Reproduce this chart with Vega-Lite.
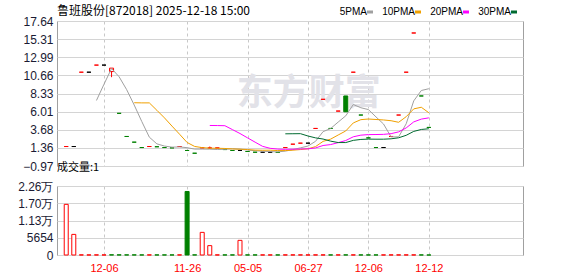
{
  "$schema": "https://vega.github.io/schema/vega-lite/v6.json",
  "background": "white",
  "padding": {"left": 17, "top": 4, "right": 5, "bottom": 0},
  "spacing": 20,
  "bounds": "flush",
  "config": {
    "view": {"stroke": "#a0a0a0", "strokeWidth": 1},
    "axis": {"ticks": false, "domain": false, "title": null, "labelFont": "Liberation Sans", "labelFontSize": 12, "labelColor": "#1a1a33", "gridColor": "#d4d4d4", "gridWidth": 1, "labelFlush": false, "labelOverlap": false, "labelPadding": 4}
  },
  "datasets": {
    "k": [
      {"i": 0, "o": 1.53, "h": 1.53, "l": 1.53, "c": 1.53, "dir": "up", "vol": 16600, "vdir": "up"},
      {"i": 1, "o": 1.53, "h": 1.53, "l": 1.53, "c": 1.53, "dir": "flat", "vol": 6760, "vdir": "up"},
      {"i": 2, "o": 11.07, "h": 11.07, "l": 11.07, "c": 11.07, "dir": "up", "vol": 40, "vdir": "up"},
      {"i": 3, "o": 11.07, "h": 11.07, "l": 11.07, "c": 11.07, "dir": "flat", "vol": 30, "vdir": "up"},
      {"i": 4, "o": 11.98, "h": 11.98, "l": 11.98, "c": 11.98, "dir": "up", "vol": 40, "vdir": "up", "5PMA": 7.44},
      {"i": 5, "o": 11.98, "h": 11.98, "l": 11.98, "c": 11.98, "dir": "flat", "vol": 30, "vdir": "up", "5PMA": 9.53},
      {"i": 6, "o": 11.15, "h": 11.59, "l": 10.43, "c": 11.59, "dir": "up", "vol": 60, "vdir": "down", "5PMA": 11.54},
      {"i": 7, "o": 5.79, "h": 5.79, "l": 5.79, "c": 5.79, "dir": "down", "vol": 50, "vdir": "down", "5PMA": 10.48},
      {"i": 8, "o": 2.82, "h": 2.82, "l": 2.82, "c": 2.82, "dir": "down", "vol": 40, "vdir": "down", "5PMA": 8.83},
      {"i": 9, "o": 2.09, "h": 2.09, "l": 2.09, "c": 2.09, "dir": "down", "vol": 40, "vdir": "down", "5PMA": 6.85, "10PMA": 7.15},
      {"i": 10, "o": 1.4, "h": 1.4, "l": 1.4, "c": 1.4, "dir": "down", "vol": 30, "vdir": "down", "5PMA": 4.74, "10PMA": 7.13},
      {"i": 11, "o": 1.53, "h": 1.53, "l": 1.53, "c": 1.53, "dir": "up", "vol": 40, "vdir": "up", "5PMA": 2.73, "10PMA": 7.13},
      {"i": 12, "o": 1.5, "h": 1.5, "l": 1.5, "c": 1.5, "dir": "down", "vol": 30, "vdir": "down", "5PMA": 1.87, "10PMA": 6.18},
      {"i": 13, "o": 1.4, "h": 1.4, "l": 1.4, "c": 1.4, "dir": "down", "vol": 30, "vdir": "down", "5PMA": 1.59, "10PMA": 5.21},
      {"i": 14, "o": 1.36, "h": 1.36, "l": 1.36, "c": 1.36, "dir": "down", "vol": 30, "vdir": "down", "5PMA": 1.45, "10PMA": 4.15},
      {"i": 15, "o": 1.53, "h": 1.53, "l": 1.53, "c": 1.53, "dir": "up", "vol": 40, "vdir": "up", "5PMA": 1.48, "10PMA": 3.11},
      {"i": 16, "o": 1.02, "h": 1.02, "l": 1.02, "c": 1.02, "dir": "down", "vol": 20820, "vdir": "down", "5PMA": 1.38, "10PMA": 2.05},
      {"i": 17, "o": 0.67, "h": 0.67, "l": 0.67, "c": 0.67, "dir": "down", "vol": 40, "vdir": "down", "5PMA": 1.2, "10PMA": 1.54},
      {"i": 18, "o": 1.36, "h": 1.36, "l": 1.36, "c": 1.36, "dir": "up", "vol": 7420, "vdir": "up", "5PMA": 1.2, "10PMA": 1.39},
      {"i": 19, "o": 1.35, "h": 1.53, "l": 1.22, "c": 1.35, "dir": "up", "vol": 3070, "vdir": "up", "5PMA": 1.19, "10PMA": 1.32, "20PMA": 4.23},
      {"i": 20, "o": 1.35, "h": 1.35, "l": 1.35, "c": 1.35, "dir": "up", "vol": 40, "vdir": "up", "5PMA": 1.15, "10PMA": 1.31, "20PMA": 4.22},
      {"i": 21, "o": 1.14, "h": 1.14, "l": 1.14, "c": 1.14, "dir": "down", "vol": 30, "vdir": "down", "5PMA": 1.17, "10PMA": 1.28, "20PMA": 4.2},
      {"i": 22, "o": 1.02, "h": 1.02, "l": 1.02, "c": 1.02, "dir": "down", "vol": 30, "vdir": "down", "5PMA": 1.24, "10PMA": 1.22, "20PMA": 3.7},
      {"i": 23, "o": 1.02, "h": 1.02, "l": 1.02, "c": 1.02, "dir": "flat", "vol": 4800, "vdir": "up", "5PMA": 1.18, "10PMA": 1.19, "20PMA": 3.2},
      {"i": 24, "o": 0.89, "h": 0.89, "l": 0.89, "c": 0.89, "dir": "down", "vol": 30, "vdir": "down", "5PMA": 1.08, "10PMA": 1.14, "20PMA": 2.64},
      {"i": 25, "o": 0.8, "h": 0.8, "l": 0.8, "c": 0.8, "dir": "down", "vol": 30, "vdir": "down", "5PMA": 0.99, "10PMA": 1.07, "20PMA": 2.09},
      {"i": 26, "o": 0.8, "h": 0.8, "l": 0.8, "c": 0.8, "dir": "flat", "vol": 30, "vdir": "up", "5PMA": 0.92, "10PMA": 1.05, "20PMA": 1.55},
      {"i": 27, "o": 0.8, "h": 0.8, "l": 0.8, "c": 0.8, "dir": "flat", "vol": 30, "vdir": "up", "5PMA": 0.88, "10PMA": 1.06, "20PMA": 1.3},
      {"i": 28, "o": 0.78, "h": 0.78, "l": 0.78, "c": 0.78, "dir": "down", "vol": 30, "vdir": "down", "5PMA": 0.84, "10PMA": 1.01, "20PMA": 1.2},
      {"i": 29, "o": 1.4, "h": 1.4, "l": 1.4, "c": 1.4, "dir": "up", "vol": 40, "vdir": "up", "5PMA": 0.94, "10PMA": 1.01, "20PMA": 1.17, "30PMA": 3.16},
      {"i": 30, "o": 1.83, "h": 1.83, "l": 1.83, "c": 1.83, "dir": "up", "vol": 40, "vdir": "up", "5PMA": 1.13, "10PMA": 1.06, "20PMA": 1.19, "30PMA": 3.17},
      {"i": 31, "o": 1.96, "h": 1.96, "l": 1.96, "c": 1.96, "dir": "up", "vol": 40, "vdir": "up", "5PMA": 1.36, "10PMA": 1.14, "20PMA": 1.21, "30PMA": 3.18},
      {"i": 32, "o": 1.96, "h": 1.96, "l": 1.96, "c": 1.96, "dir": "flat", "vol": 30, "vdir": "up", "5PMA": 1.59, "10PMA": 1.24, "20PMA": 1.23, "30PMA": 2.88},
      {"i": 33, "o": 3.85, "h": 3.85, "l": 3.85, "c": 3.85, "dir": "up", "vol": 40, "vdir": "up", "5PMA": 2.2, "10PMA": 1.52, "20PMA": 1.35, "30PMA": 2.64},
      {"i": 34, "o": 7.59, "h": 7.59, "l": 7.59, "c": 7.59, "dir": "up", "vol": 40, "vdir": "up", "5PMA": 3.44, "10PMA": 2.19, "20PMA": 1.66, "30PMA": 2.49},
      {"i": 35, "o": 3.85, "h": 3.85, "l": 3.85, "c": 3.85, "dir": "down", "vol": 30, "vdir": "down", "5PMA": 3.84, "10PMA": 2.48, "20PMA": 1.78, "30PMA": 2.22},
      {"i": 36, "o": 6.08, "h": 6.08, "l": 6.08, "c": 6.08, "dir": "up", "vol": 40, "vdir": "up", "5PMA": 4.67, "10PMA": 3.01, "20PMA": 2.03, "30PMA": 2.04},
      {"i": 37, "o": 8.02, "h": 8.02, "l": 5.99, "c": 5.99, "dir": "down", "vol": 40, "vdir": "down", "5PMA": 5.47, "10PMA": 3.53, "20PMA": 2.3, "30PMA": 2.04},
      {"i": 38, "o": 11.07, "h": 11.07, "l": 11.07, "c": 11.07, "dir": "up", "vol": 40, "vdir": "up", "5PMA": 6.92, "10PMA": 4.56, "20PMA": 2.78, "30PMA": 2.32},
      {"i": 39, "o": 5.57, "h": 5.57, "l": 5.57, "c": 5.57, "dir": "down", "vol": 30, "vdir": "down", "5PMA": 6.51, "10PMA": 4.98, "20PMA": 2.99, "30PMA": 2.44},
      {"i": 40, "o": 2.64, "h": 2.64, "l": 2.64, "c": 2.64, "dir": "down", "vol": 30, "vdir": "down", "5PMA": 6.27, "10PMA": 5.06, "20PMA": 3.06, "30PMA": 2.48},
      {"i": 41, "o": 1.4, "h": 1.4, "l": 1.4, "c": 1.4, "dir": "down", "vol": 30, "vdir": "down", "5PMA": 5.33, "10PMA": 5.0, "20PMA": 3.07, "30PMA": 2.47},
      {"i": 42, "o": 1.4, "h": 1.4, "l": 1.4, "c": 1.4, "dir": "flat", "vol": 30, "vdir": "up", "5PMA": 4.42, "10PMA": 4.94, "20PMA": 3.09, "30PMA": 2.47},
      {"i": 43, "o": 2.82, "h": 2.82, "l": 2.82, "c": 2.82, "dir": "up", "vol": 40, "vdir": "up", "5PMA": 2.77, "10PMA": 4.84, "20PMA": 3.18, "30PMA": 2.52},
      {"i": 44, "o": 5.57, "h": 5.57, "l": 5.57, "c": 5.57, "dir": "up", "vol": 40, "vdir": "up", "5PMA": 2.77, "10PMA": 4.64, "20PMA": 3.41, "30PMA": 2.65},
      {"i": 45, "o": 11.07, "h": 11.07, "l": 11.07, "c": 11.07, "dir": "up", "vol": 40, "vdir": "up", "5PMA": 4.45, "10PMA": 5.36, "20PMA": 3.92, "30PMA": 2.97},
      {"i": 46, "o": 16.1, "h": 16.1, "l": 16.1, "c": 16.1, "dir": "up", "vol": 40, "vdir": "up", "5PMA": 7.39, "10PMA": 6.36, "20PMA": 4.69, "30PMA": 3.47},
      {"i": 47, "o": 8.02, "h": 8.02, "l": 8.02, "c": 8.02, "dir": "down", "vol": 30, "vdir": "down", "5PMA": 8.72, "10PMA": 6.57, "20PMA": 5.05, "30PMA": 3.72},
      {"i": 48, "o": 3.98, "h": 3.98, "l": 3.98, "c": 3.98, "dir": "down", "vol": 1, "vdir": "down", "5PMA": 8.95, "10PMA": 5.86, "20PMA": 5.21, "30PMA": 3.81}
    ]
  },
  "vconcat": [
    {
      "width": 466,
      "height": 145,
      "title": {"text": "鲁班股份[872018] 2025-12-18 15:00", "anchor": "start", "frame": "group", "baseline": "bottom", "offset": -15, "fontSize": 12, "font": "Noto Sans CJK SC", "fontWeight": "normal", "color": "#000000"},
      "data": {"name": "k"},
      "layer": [
        {
          "data": {"values": [{"wm": "东方财富"}]},
          "mark": {"type": "text", "font": "Noto Sans CJK SC", "fontSize": 36, "fontWeight": "bold", "color": "#e2e2e8"},
          "encoding": {
            "x": {"datum": 32.1, "type": "quantitative", "scale": {"domain": [-0.56, 59.8], "nice": false, "zero": false},
              "axis": {"values": [5, 16, 24, 32, 40, 48], "labels": false, "grid": true, "gridDash": [3, 3], "gridColor": "#c8c8c8"}},
            "y": {"datum": 8.27, "type": "quantitative", "scale": {"domain": [-0.97, 17.64], "nice": false, "zero": false},
              "axis": {"values": [-0.97, 1.36, 3.68, 6.01, 8.33, 10.66, 12.99, 15.31, 17.64], "format": ".2f", "grid": true, "labelOverlap": false}},
            "text": {"field": "wm"}
          }
        },
        {
          "mark": {"type": "rule", "strokeWidth": 1},
          "encoding": {
            "x": {"field": "i", "type": "quantitative", "scale": {"domain": [-0.56, 59.8], "nice": false, "zero": false},
              "axis": {"values": [5, 16, 24, 32, 40, 48], "labels": false, "grid": true, "gridDash": [3, 3], "gridColor": "#c8c8c8"}},
            "y": {"field": "l", "type": "quantitative", "scale": {"domain": [-0.97, 17.64], "nice": false, "zero": false},
              "axis": {"values": [-0.97, 1.36, 3.68, 6.01, 8.33, 10.66, 12.99, 15.31, 17.64], "format": ".2f", "grid": true, "labelOverlap": false}},
            "y2": {"field": "h"},
            "stroke": {"field": "dir", "type": "nominal", "scale": {"domain": ["up", "down", "flat"], "range": ["#ff0000", "#008000", "#000000"]}, "legend": null}
          }
        },
        {
          "mark": {"type": "bar", "size": 4, "strokeWidth": 1},
          "encoding": {
            "x": {"field": "i", "type": "quantitative", "scale": {"domain": [-0.56, 59.8], "nice": false, "zero": false},
              "axis": {"values": [5, 16, 24, 32, 40, 48], "labels": false, "grid": true, "gridDash": [3, 3], "gridColor": "#c8c8c8"}},
            "y": {"field": "o", "type": "quantitative", "scale": {"domain": [-0.97, 17.64], "nice": false, "zero": false},
              "axis": {"values": [-0.97, 1.36, 3.68, 6.01, 8.33, 10.66, 12.99, 15.31, 17.64], "format": ".2f", "grid": true, "labelOverlap": false}},
            "y2": {"field": "c"},
            "fill": {"field": "dir", "type": "nominal", "scale": {"domain": ["up", "down", "flat"], "range": ["#ffffff", "#008000", "#000000"]}, "legend": null},
            "stroke": {"field": "dir", "type": "nominal", "scale": {"domain": ["up", "down", "flat"], "range": ["#ff0000", "#008000", "#000000"]}, "legend": null}
          }
        },
        {
          "transform": [{"fold": ["5PMA", "10PMA", "20PMA", "30PMA"], "as": ["ma", "val"]}],
          "mark": {"type": "line", "strokeWidth": 1},
          "encoding": {
            "x": {"field": "i", "type": "quantitative", "scale": {"domain": [-0.56, 59.8], "nice": false, "zero": false},
              "axis": {"values": [5, 16, 24, 32, 40, 48], "labels": false, "grid": true, "gridDash": [3, 3], "gridColor": "#c8c8c8"}},
            "y": {"field": "val", "type": "quantitative", "scale": {"domain": [-0.97, 17.64], "nice": false, "zero": false},
              "axis": {"values": [-0.97, 1.36, 3.68, 6.01, 8.33, 10.66, 12.99, 15.31, 17.64], "format": ".2f", "grid": true, "labelOverlap": false}},
            "color": {"field": "ma", "type": "nominal",
              "scale": {"domain": ["5PMA", "10PMA", "20PMA", "30PMA"], "range": ["#a0a0a0", "#f0a000", "#ff00ff", "#006a30"]},
              "legend": {"title": null, "orient": "none", "legendX": 308, "legendY": -14, "direction": "horizontal",
                "symbolType": "M-1,-0.25H1V0.25H-1Z", "symbolSize": 16, "symbolStrokeWidth": 2,
                "labelAlign": "right", "labelOffset": -8, "labelFont": "Liberation Sans", "labelFontSize": 10, "labelColor": "#000000",
                "columnPadding": 6, "padding": 0}}
          }
        }
      ]
    },
    {
      "width": 466,
      "height": 69,
      "title": {"text": "成交量:1", "anchor": "start", "frame": "group", "baseline": "bottom", "offset": -4, "fontSize": 11, "font": "Noto Sans CJK SC", "fontWeight": "normal", "color": "#000000"},
      "data": {"name": "k"},
      "mark": {"type": "bar", "size": 4, "strokeWidth": 1},
      "encoding": {
        "x": {"field": "i", "type": "quantitative", "scale": {"domain": [-0.56, 59.8], "nice": false, "zero": false},
          "axis": {"values": [5, 16, 24, 32, 40, 48], "labelExpr": "['12-06','11-26','05-05','06-27','12-06','12-12'][indexof([5,16,24,32,40,48], datum.value)]",
            "labelColor": "#ff0000", "labelFontSize": 11, "labelPadding": 7, "grid": true, "gridDash": [3, 3], "gridColor": "#c8c8c8"}},
        "y": {"field": "vol", "type": "quantitative", "scale": {"domain": [0, 22616], "nice": false, "zero": true},
          "axis": {"values": [0, 5654, 11308, 16962, 22616], "labelExpr": "datum.value >= 10000 ? format(datum.value / 10000, '.2f') + '万' : format(datum.value, 'd')", "grid": true}},
        "fill": {"field": "vdir", "type": "nominal", "scale": {"domain": ["up", "down", "flat"], "range": ["#ffffff", "#008000", "#000000"]}, "legend": null},
        "stroke": {"field": "vdir", "type": "nominal", "scale": {"domain": ["up", "down", "flat"], "range": ["#ff0000", "#008000", "#000000"]}, "legend": null}
      }
    }
  ]
}
